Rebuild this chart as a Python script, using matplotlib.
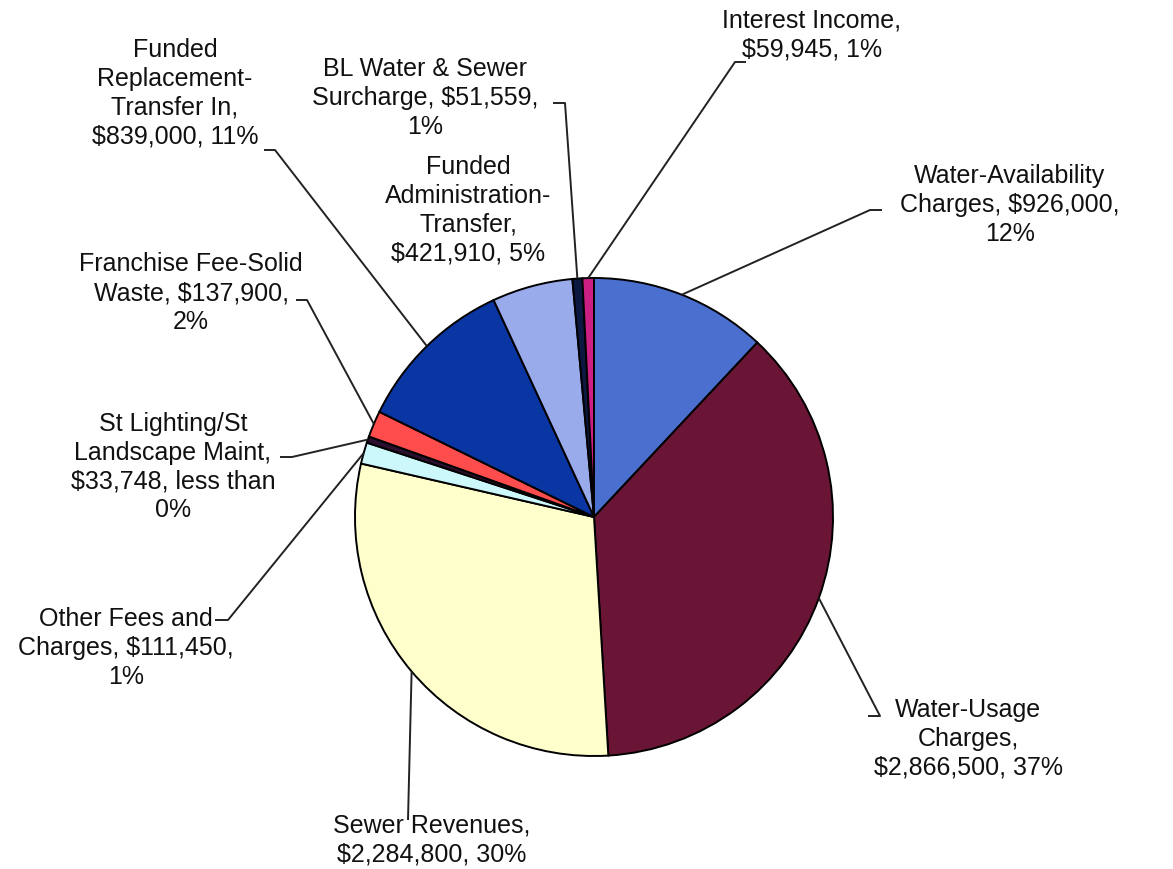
import numpy as np
import matplotlib
matplotlib.use('Agg')
import matplotlib.pyplot as plt

W, H = 1173, 869

names = [
    "Water-Availability\nCharges, $926,000,\n12%",
    "Water-Usage\nCharges,\n$2,866,500, 37%",
    "Sewer Revenues,\n$2,284,800, 30%",
    "Other Fees and\nCharges, $111,450,\n1%",
    "St Lighting/St\nLandscape Maint,\n$33,748, less than\n0%",
    "Franchise Fee-Solid\nWaste, $137,900,\n2%",
    "Funded\nReplacement-\nTransfer In,\n$839,000, 11%",
    "Funded\nAdministration-\nTransfer,\n$421,910, 5%",
    "BL Water & Sewer\nSurcharge, $51,559,\n1%",
    "Interest Income,\n$59,945, 1%",
]
amounts = [926000, 2866500, 2284800, 111450, 33748, 137900, 839000, 421910, 51559, 59945]
colors = ['#4b6fcf', '#6a1535', '#ffffcc', '#ccf7fb', '#2b0f2e', '#ff4d4d',
          '#0a36a3', '#9aabec', '#0c1840', '#cc1f84']

# label layout in pixel coords (image y grows downward)
label_xy = [(1010, 205), (968, 739), (432, 840), (126, 648), (173, 467),
            (191, 293), (175, 93), (468, 210), (425, 98), (812, 35)]
# elbow of each leader line, and where its short stub ends near the text
elbow = [(870, 210), (880, 716), (408, 820), (228, 620), (292, 457),
         (307, 300), (275, 150), None, (565, 103), (735, 62)]
stub = [(882, 210), (868, 716), None, (215, 620), (280, 457),
        (296, 300), (264, 150), None, (553, 103), (746, 62)]

cx, cy, r = 594, 517, 239


def fy(y):
    return H - y


fig = plt.figure(figsize=(W / 100, H / 100), dpi=100, facecolor='white')
ax = fig.add_axes([0, 0, 1, 1])

wedges, _ = ax.pie(amounts, colors=colors, startangle=90, counterclock=False,
                   center=(cx, fy(cy)), radius=r, frame=True,
                   wedgeprops=dict(edgecolor='black', linewidth=1.4))
ax.set_xlim(0, W)
ax.set_ylim(0, H)
ax.set_aspect('equal')
ax.axis('off')

for i, w in enumerate(wedges):
    tx, ty = label_xy[i]
    ax.text(tx, fy(ty), names[i], ha='center', va='center', fontsize=18,
            family='Liberation Sans', color='#111111', linespacing=1.25)
    if elbow[i] is None:
        continue
    mid = np.deg2rad((w.theta1 + w.theta2) / 2)
    ex = cx + r * np.cos(mid)
    ey = fy(cy) + r * np.sin(mid)
    xs = [ex, elbow[i][0]]
    ys = [ey, fy(elbow[i][1])]
    if stub[i] is not None:
        xs.append(stub[i][0])
        ys.append(fy(stub[i][1]))
    ax.plot(xs, ys, color='#222222', lw=1.4, solid_capstyle='butt')

fig.savefig('out.png', dpi=100, facecolor='white')
